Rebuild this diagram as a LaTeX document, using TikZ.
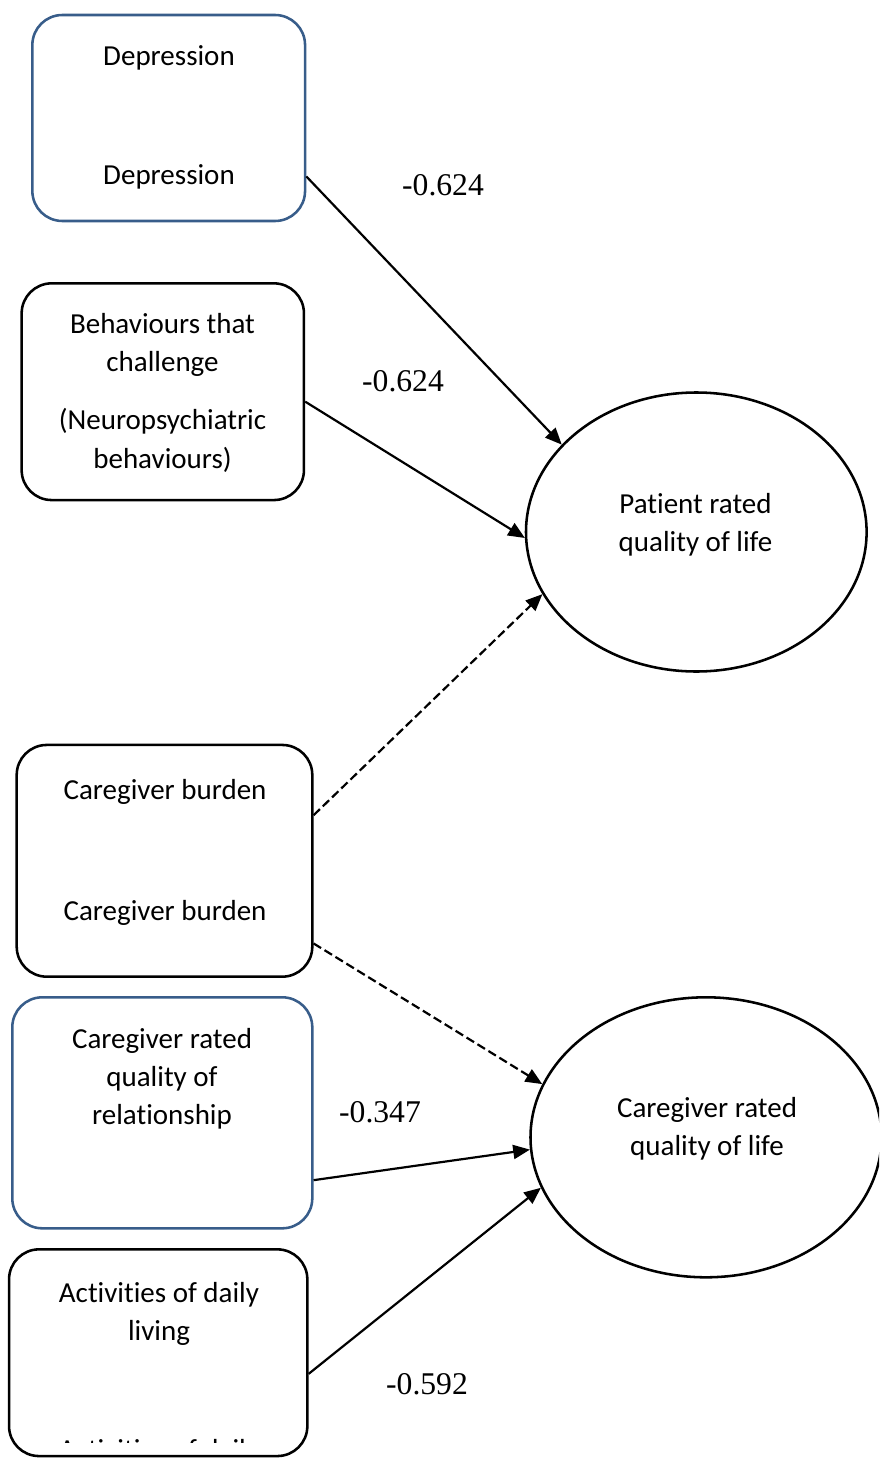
\documentclass[tikz,border=0pt]{standalone}
\usepackage{fontspec}
\setmainfont{Carlito}[Ligatures={NoCommon,NoRare,NoContextual}]
\newfontfamily\numfont{Liberation Serif}
\usetikzlibrary{arrows.meta,shapes.geometric}
\definecolor{shapeblue}{HTML}{385D8A}
\tikzset{
  box/.style={draw=black,line width=1.45pt,rounded corners=0.6cm,inner sep=0pt},
  bluebox/.style={box,draw=shapeblue},
  oval/.style={draw=black,line width=1.45pt,ellipse,inner sep=0pt},
  txt/.style={anchor=north,align=center,inner sep=0pt,font=\fontsize{16.5}{21.7}\selectfont},
  coef/.style={anchor=base,inner sep=0pt,font=\numfont\fontsize{18}{21.6}\selectfont},
  arr/.style={line width=1.25pt,-{Triangle[length=9.5pt,width=8pt]}},
  dasharr/.style={arr,dash pattern=on 5pt off 2.3pt}
}

\begin{document}
\begin{tikzpicture}
\clip (0,0) rectangle (17.58,-29.16);

\node[bluebox,minimum width=5.454cm,minimum height=4.12cm] (dep) at (3.374,-2.36) {};
\node[box,minimum width=5.646cm,minimum height=4.334cm] (beh) at (3.256,-7.834) {};
\node[box,minimum width=5.912cm,minimum height=4.634cm] (burden) at (3.29,-17.216) {};
\node[bluebox,minimum width=6cm,minimum height=4.62cm] (rel) at (3.246,-22.256) {};
\node[box,minimum width=5.966cm,minimum height=4.134cm] (adl) at (3.164,-27.054) {};

\node[oval,minimum width=6.812cm,minimum height=5.58cm] (patqol) at (13.926,-10.64) {};
\node[oval,minimum width=7.02cm,minimum height=5.6cm] (cgqol) at (14.12,-22.746) {};

\node[txt] (deptext) at (3.38,-0.766) {\strut Depression\\[1.62cm]Depression};
\node[txt] (behtext) at (3.25,-6.132) {\strut Behaviours that\\challenge\\[0.40cm](Neuropsychiatric\\behaviours)};
\node[txt] (burdentext) at (3.3,-15.446) {\strut Caregiver burden\\[1.66cm]Caregiver burden};
\node[txt] (reltext) at (3.24,-20.432) {\strut Caregiver rated\\quality of\\relationship};
\begin{scope}
\clip (0,-24.9) rectangle (6.4,-28.84);
\node[txt] (adltext) at (3.18,-25.506) {\strut Activities of daily\\living\\[1.62cm]Activities of daily\\living};
\end{scope}
\node[txt] (pattext) at (13.91,-9.72) {\strut Patient rated\\quality of life};
\node[txt] (cgtext) at (14.14,-21.812) {\strut Caregiver rated\\quality of life};

\draw[arr] (dep.-23.9) -- (patqol.147.1);
\draw[arr] (beh.-4.2) -- (patqol.182.7);
\draw[dasharr] (burden.17.2) -- (patqol.202.9);
\draw[dasharr] (burden.-29) -- (cgqol.162.2);
\draw[arr] (rel.-24.4) -- (cgqol.184.9);
\draw[arr] (adl.-8.5) -- (cgqol.197.2);

\node[coef] (c1) at (8.86,-3.92) {-0.624};
\node[coef] (c2) at (8.06,-7.82) {-0.624};
\node[coef] (c3) at (7.6,-22.454) {-0.347};
\node[coef] (c4) at (8.54,-27.886) {-0.592};
\end{tikzpicture}
\end{document}
